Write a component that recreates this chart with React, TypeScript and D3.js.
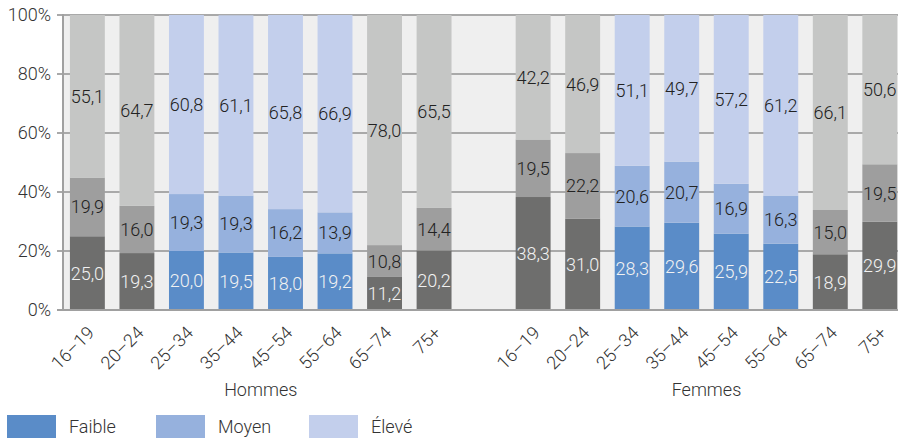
import React from "react";
import * as d3 from "d3";

const groups = ["Hommes", "Femmes"];
const ages = ["16–19", "20–24", "25–34", "35–44", "45–54", "55–64", "65–74", "75+"];
const levels = ["Faible", "Moyen", "Élevé"];
const hommesFaible = [25.0, 19.3, 20.0, 19.5, 18.0, 19.2, 11.2, 20.2];
const hommesMoyen = [19.9, 16.0, 19.3, 19.3, 16.2, 13.9, 10.8, 14.4];
const hommesEleve = [55.1, 64.7, 60.8, 61.1, 65.8, 66.9, 78.0, 65.5];
const femmesFaible = [38.3, 31.0, 28.3, 29.6, 25.9, 22.5, 18.9, 29.9];
const femmesMoyen = [19.5, 22.2, 20.6, 20.7, 16.9, 16.3, 15.0, 19.5];
const femmesEleve = [42.2, 46.9, 51.1, 49.7, 57.2, 61.2, 66.1, 50.6];
const highlighted = [false, false, true, true, true, true, false, false];
const yTicks = [0, 20, 40, 60, 80, 100];

const W = 898;
const H = 438;
const blue = ["#5a8cc8", "#96b1dd", "#c3cfec"];
const gray = ["#6e6e6d", "#9e9e9e", "#c5c6c5"];
const font = "Roboto, sans-serif";

export default function App() {
  const slots: string[] = [];
  groups.forEach((g, gi) => {
    if (gi > 0) slots.push("gap");
    ages.forEach((a) => slots.push(g + "|" + a));
  });
  const x = d3.scaleBand<string>().domain(slots).range([62, 62 + 17 * 49.6]).paddingInner(0.295).paddingOuter(0.16);
  const y = d3.scaleLinear().domain([0, 100]).range([310, 15]);
  const data = [
    [hommesFaible, hommesMoyen, hommesEleve],
    [femmesFaible, femmesMoyen, femmesEleve],
  ];
  const stackKeys = levels;
  const fmt = (v: number) => v.toFixed(1).replace(".", ",");

  const bars: React.ReactNode[] = [];
  const labels: React.ReactNode[] = [];
  const xLabels: React.ReactNode[] = [];
  groups.forEach((g, gi) => {
    const rows = ages.map((a, i) => ({
      age: a,
      Faible: data[gi][0][i],
      Moyen: data[gi][1][i],
      "Élevé": data[gi][2][i],
    }));
    const series = d3.stack<any>().keys(stackKeys)(rows);
    series.forEach((s, si) => {
      s.forEach((d, i) => {
        const key = g + "|" + ages[i];
        const x0 = x(key)!;
        const colors = highlighted[i] ? blue : gray;
        const top = y(Math.min(d[1], 100));
        const bot = y(d[0]);
        bars.push(
          <rect key={`b-${key}-${si}`} x={x0} y={top} width={x.bandwidth()} height={bot - top} fill={colors[si]} />
        );
        labels.push(
          <text
            key={`l-${key}-${si}`}
            x={x0 + x.bandwidth() / 2}
            y={(top + bot) / 2}
            dy="0.36em"
            textAnchor="middle"
            fontSize={18}
            fontWeight={300}
            fill={si === 0 ? "#f2f2f2" : "#222"}
          >
            {fmt(data[gi][si][i])}
          </text>
        );
      });
    });
    ages.forEach((a) => {
      const key = g + "|" + a;
      const cx = x(key)! + x.bandwidth() / 2;
      xLabels.push(
        <text
          key={`x-${key}`}
          transform={`translate(${cx + 8},${334}) rotate(-45)`}
          textAnchor="end"
          fontSize={18}
          fontWeight={300}
          fill="#333"
        >
          {a}
        </text>
      );
    });
  });

  const groupCenter = (g: string) => {
    const first = x(g + "|" + ages[0])!;
    const last = x(g + "|" + ages[ages.length - 1])! + x.bandwidth();
    return (first + last) / 2;
  };

  const legendX = [7, 156, 309];

  return (
    <svg width={W} height={H} style={{ position: "absolute", left: 0, top: 0, fontFamily: font }}>
      <rect x={63} y={15} width={W - 63} height={295} fill="#efefef" />
      {yTicks.map((t) => (
        <g key={t}>
          <line x1={57} x2={W} y1={y(t)} y2={y(t)} stroke="#a9a9a9" strokeWidth={2} />
          <text x={51} y={y(t)} dy="0.36em" textAnchor="end" fontSize={18} fontWeight={300} fill="#333">
            {t}%
          </text>
        </g>
      ))}
      {bars}
      <line x1={63} x2={63} y1={14} y2={311} stroke="#a0a0a0" strokeWidth={2} />
      <line x1={57} x2={W} y1={y(0)} y2={y(0)} stroke="#a0a0a0" strokeWidth={2} />
      {labels}
      {xLabels}
      {groups.map((g) => (
        <text key={g} x={groupCenter(g)} y={396} textAnchor="middle" fontSize={18} fontWeight={300} fill="#333">
          {g}
        </text>
      ))}
      {levels.map((l, i) => (
        <g key={l}>
          <rect x={legendX[i]} y={415} width={49} height={23} fill={blue[i]} />
          <text x={legendX[i] + 62} y={433} fontSize={18} fontWeight={300} fill="#333">
            {l}
          </text>
        </g>
      ))}
    </svg>
  );
}
